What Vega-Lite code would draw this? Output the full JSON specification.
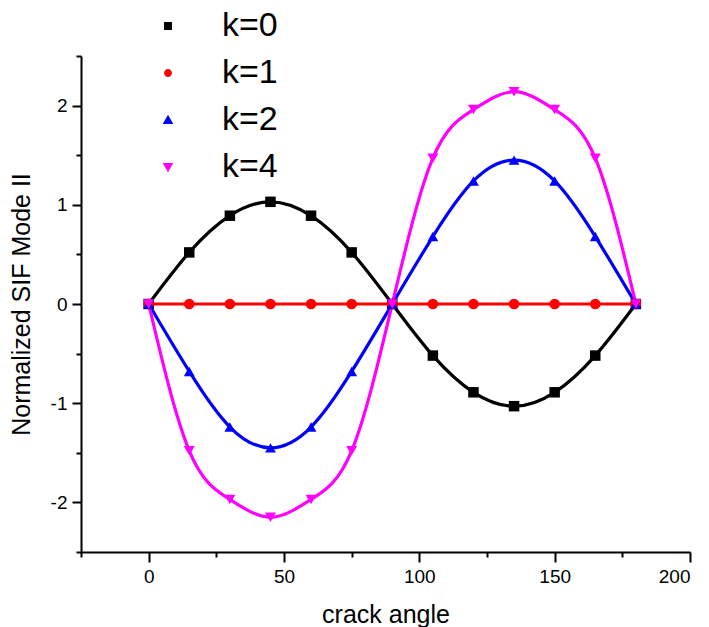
{
  "$schema": "https://vega.github.io/schema/vega-lite/v6.json",
  "autosize": {"type": "none"},
  "padding": {"left": 81, "top": 56, "right": 19, "bottom": 75},
  "width": 609,
  "height": 496,
  "background": "white",
  "config": {
    "view": {"stroke": null},
    "font": "Liberation Sans",
    "axis": {
      "grid": false,
      "domainColor": "black",
      "tickColor": "black",
      "labelColor": "black",
      "titleColor": "black",
      "domainWidth": 2,
      "tickWidth": 2,
      "titleFontWeight": "normal"
    },
    "legend": {
      "orient": "none", "legendX": 70, "legendY": -47,
      "labelFontSize": 34, "labelColor": "black", "labelOffset": 37,
      "symbolSize": 484, "rowPadding": 13, "symbolStrokeWidth": 3, "symbolOpacity": 1,
      "symbolBaseFillColor": {"expr": "scale('color', datum.value)"},
      "symbolBaseStrokeColor": {"expr": "scale('color', datum.value)"},
      "symbolStrokeColor": {"expr": "scale('color', datum.value)"}
    }
  },
  "data": {
    "values": [
      {"angle": 0, "k": "k=0", "sif": 0}, {"angle": 15, "k": "k=0", "sif": 0.52}, {"angle": 30, "k": "k=0", "sif": 0.89},
      {"angle": 45, "k": "k=0", "sif": 1.03}, {"angle": 60, "k": "k=0", "sif": 0.89}, {"angle": 75, "k": "k=0", "sif": 0.52},
      {"angle": 90, "k": "k=0", "sif": 0}, {"angle": 105, "k": "k=0", "sif": -0.52}, {"angle": 120, "k": "k=0", "sif": -0.89},
      {"angle": 135, "k": "k=0", "sif": -1.03}, {"angle": 150, "k": "k=0", "sif": -0.89}, {"angle": 165, "k": "k=0", "sif": -0.52},
      {"angle": 180, "k": "k=0", "sif": 0},
      {"angle": 0, "k": "k=1", "sif": 0}, {"angle": 15, "k": "k=1", "sif": 0}, {"angle": 30, "k": "k=1", "sif": 0},
      {"angle": 45, "k": "k=1", "sif": 0}, {"angle": 60, "k": "k=1", "sif": 0}, {"angle": 75, "k": "k=1", "sif": 0},
      {"angle": 90, "k": "k=1", "sif": 0}, {"angle": 105, "k": "k=1", "sif": 0}, {"angle": 120, "k": "k=1", "sif": 0},
      {"angle": 135, "k": "k=1", "sif": 0}, {"angle": 150, "k": "k=1", "sif": 0}, {"angle": 165, "k": "k=1", "sif": 0},
      {"angle": 180, "k": "k=1", "sif": 0},
      {"angle": 0, "k": "k=2", "sif": 0}, {"angle": 15, "k": "k=2", "sif": -0.68}, {"angle": 30, "k": "k=2", "sif": -1.24},
      {"angle": 45, "k": "k=2", "sif": -1.45}, {"angle": 60, "k": "k=2", "sif": -1.24}, {"angle": 75, "k": "k=2", "sif": -0.68},
      {"angle": 90, "k": "k=2", "sif": 0}, {"angle": 105, "k": "k=2", "sif": 0.68}, {"angle": 120, "k": "k=2", "sif": 1.24},
      {"angle": 135, "k": "k=2", "sif": 1.45}, {"angle": 150, "k": "k=2", "sif": 1.24}, {"angle": 165, "k": "k=2", "sif": 0.68},
      {"angle": 180, "k": "k=2", "sif": 0},
      {"angle": 0, "k": "k=4", "sif": 0}, {"angle": 15, "k": "k=4", "sif": -1.48}, {"angle": 30, "k": "k=4", "sif": -1.97},
      {"angle": 45, "k": "k=4", "sif": -2.15}, {"angle": 60, "k": "k=4", "sif": -1.97}, {"angle": 75, "k": "k=4", "sif": -1.48},
      {"angle": 90, "k": "k=4", "sif": 0}, {"angle": 105, "k": "k=4", "sif": 1.47}, {"angle": 120, "k": "k=4", "sif": 1.96},
      {"angle": 135, "k": "k=4", "sif": 2.14}, {"angle": 150, "k": "k=4", "sif": 1.96}, {"angle": 165, "k": "k=4", "sif": 1.47},
      {"angle": 180, "k": "k=4", "sif": 0}
    ]
  },
  "layer": [
    {
      "mark": {"type": "line", "interpolate": "natural", "strokeWidth": 3.2},
      "encoding": {
        "x": {
          "field": "angle", "type": "quantitative",
          "scale": {"domain": [-25, 200], "nice": false, "zero": false},
          "axis": {
            "orient": "bottom", "values": [0, 50, 100, 150, 200], "tickSize": 10,
            "labelFontSize": 19, "labelPadding": 5, "labelExpr": "'' + datum.value",
            "title": "crack angle", "titleFontSize": 25, "titlePadding": 16
          }
        },
        "y": {
          "field": "sif", "type": "quantitative",
          "scale": {"domain": [-2.5, 2.5], "nice": false, "zero": false},
          "axis": {
            "orient": "left", "values": [-2, -1, 0, 1, 2], "tickSize": 9,
            "labelFontSize": 19, "labelPadding": 5, "labelExpr": "'' + datum.value",
            "title": "Normalized SIF Mode II", "titleFontSize": 25, "titlePadding": 16
          }
        },
        "color": {
          "field": "k", "type": "nominal",
          "scale": {"domain": ["k=0", "k=1", "k=2", "k=4"], "range": ["#000000", "#ff0000", "#0000ff", "#ff00ff"]},
          "legend": null
        }
      }
    },
    {
      "mark": {"type": "point", "filled": true, "opacity": 1},
      "encoding": {
        "x": {
          "field": "angle", "type": "quantitative",
          "axis": {
            "orient": "bottom", "values": [-25, 25, 75, 125, 175], "tickSize": 5,
            "labels": false, "domain": false, "title": null
          }
        },
        "y": {
          "field": "sif", "type": "quantitative",
          "axis": {
            "orient": "left", "values": [-2.5, -1.5, -0.5, 0.5, 1.5, 2.5], "tickSize": 5,
            "labels": false, "domain": false, "title": null
          }
        },
        "color": {"field": "k", "type": "nominal", "legend": null},
        "shape": {
          "field": "k", "type": "nominal",
          "scale": {"domain": ["k=0", "k=1", "k=2", "k=4"], "range": ["square", "circle", "triangle-up", "triangle-down"]},
          "legend": null
        },
        "size": {
          "field": "k", "type": "nominal",
          "scale": {"domain": ["k=0", "k=1", "k=2", "k=4"], "range": [110, 120, 150, 150]},
          "legend": null
        }
      }
    },
    {
      "transform": [{"filter": "false"}],
      "mark": {"type": "point", "filled": true},
      "encoding": {
        "x": {"field": "angle", "type": "quantitative", "axis": null},
        "y": {"field": "sif", "type": "quantitative", "axis": null},
        "shape": {
          "field": "k", "type": "nominal",
          "scale": {
            "domain": ["k=0", "k=1", "k=2", "k=4"],
            "range": [
              "M-4,0H4M-0.36,-0.36H0.36V0.36H-0.36Z",
              "M-4,0H4M0.36,0A0.36,0.36,0,1,1,-0.36,0A0.36,0.36,0,1,1,0.36,0Z",
              "M-4,0H4M0,-0.48L0.48,0.36L-0.48,0.36Z",
              "M-4,0H4M0,0.48L0.48,-0.36L-0.48,-0.36Z"
            ]
          },
          "legend": {"title": null}
        },
        "fill": {
          "field": "k", "type": "nominal",
          "scale": {"domain": ["k=0", "k=1", "k=2", "k=4"], "range": ["#000000", "#ff0000", "#0000ff", "#ff00ff"]},
          "legend": {"title": null}
        },
        "stroke": {
          "field": "k", "type": "nominal",
          "scale": {"domain": ["k=0", "k=1", "k=2", "k=4"], "range": ["#000000", "#ff0000", "#0000ff", "#ff00ff"]},
          "legend": {"title": null}
        }
      }
    }
  ],
  "resolve": {"axis": {"x": "independent", "y": "independent"}, "scale": {"shape": "independent"}}
}
